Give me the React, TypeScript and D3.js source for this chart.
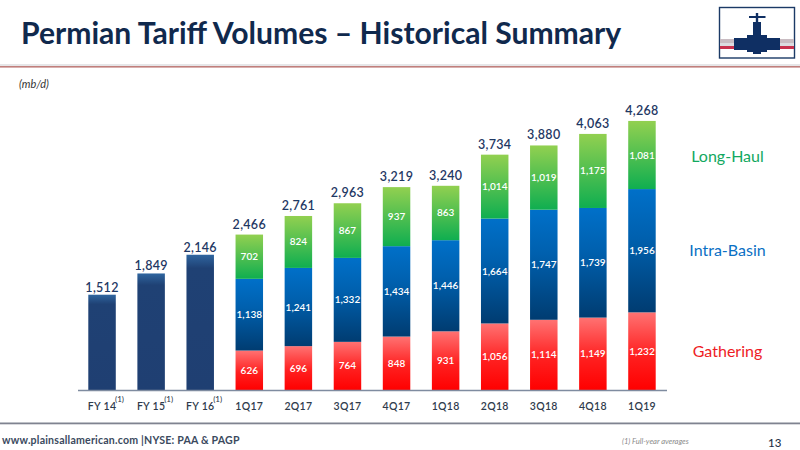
import React, { useRef, useEffect } from 'react';
import * as d3 from 'd3';

const categories = ['FY 14', 'FY 15', 'FY 16', '1Q17', '2Q17', '3Q17', '4Q17', '1Q18', '2Q18', '3Q18', '4Q18', '1Q19'];
const footnoted = ['FY 14', 'FY 15', 'FY 16'];
const annualTotals = [1512, 1849, 2146];
const quarters = categories.slice(3);
const gathering = [626, 696, 764, 848, 931, 1056, 1114, 1149, 1232];
const intraBasin = [1138, 1241, 1332, 1434, 1446, 1664, 1747, 1739, 1956];
const longHaul = [702, 824, 867, 937, 863, 1014, 1019, 1175, 1081];
const quarterTotals = [2466, 2761, 2963, 3219, 3240, 3734, 3880, 4063, 4268];

const FONT = 'Lato, "Open Sans", sans-serif';
const NAVY = '#10294d';

const App: React.FC = () => {
  const svgRef = useRef<SVGSVGElement>(null);

  useEffect(() => {
    const svg = d3.select(svgRef.current);
    svg.selectAll('*').remove();
    svg.style('font-family', FONT);

    const x = d3.scaleBand().domain(categories).range([77.5, 666.5]).paddingInner(0.44).paddingOuter(0.22);
    const y = d3.scaleLinear().domain([0, 4268]).range([390, 121]);

    // Gradients
    const defs = svg.append('defs');
    const gradient = (id: string, stops: [string, string][]) => {
      const g = defs.append('linearGradient').attr('id', id).attr('x1', 0).attr('x2', 0).attr('y1', 0).attr('y2', 1);
      stops.forEach(([o, c]) => g.append('stop').attr('offset', o).attr('stop-color', c));
    };
    gradient('red', [['0', '#ff7272'], ['0.55', '#ff2020'], ['1', '#ff0000']]);
    gradient('blue', [['0', '#0070c9'], ['0.4', '#0060ae'], ['1', '#003c71']]);
    gradient('green', [['0', '#92d050'], ['1', '#0fae50']]);
    gradient('navy', [['0', '#2f659f'], ['0.1', '#1f4174'], ['1', '#1f3f72']]);

    // Slide frame
    svg.append('text').attr('x', 21).attr('y', 44).attr('font-size', 30.1).attr('font-weight', 700)
      .attr('fill', NAVY).text('Permian Tariff Volumes – Historical Summary');
    svg.append('rect').attr('x', 0).attr('y', 64).attr('width', 800).attr('height', 2).attr('fill', '#e6e6e8');
    svg.append('rect').attr('x', 0).attr('y', 66).attr('width', 800).attr('height', 1.6).attr('fill', '#c07f7c');
    svg.append('text').attr('x', 19).attr('y', 88).attr('font-size', 11).attr('font-style', 'italic')
      .attr('fill', '#333').text('(mb/d)');
    svg.append('rect').attr('x', 0).attr('y', 422.5).attr('width', 800).attr('height', 1.8).attr('fill', '#7f8390');
    svg.append('text').attr('x', 2).attr('y', 443.5).attr('font-size', 10.6).attr('font-weight', 700)
      .attr('fill', '#3b4a5e').attr('letter-spacing', 0.2).text('www.plainsallamerican.com |NYSE: PAA & PAGP');
    svg.append('text').attr('x', 622).attr('y', 444).attr('font-size', 7.6).attr('font-style', 'italic')
      .attr('fill', '#8a8a8a').text('(1) Full-year averages');
    svg.append('text').attr('x', 768).attr('y', 447).attr('font-size', 11.5).attr('font-weight', 500)
      .attr('fill', '#1f2f45').text('13');

    // Logo
    const logo = svg.append('g').attr('fill', '#0f2f63');
    logo.append('rect').attr('x', 719.5).attr('y', 7.5).attr('width', 75).attr('height', 50.5)
      .attr('fill', '#fff').attr('stroke', '#1b3a66').attr('stroke-width', 1.4);
    logo.append('rect').attr('x', 720).attr('y', 39).attr('width', 74).attr('height', 4).attr('fill', '#c9bcc2');
    logo.append('rect').attr('x', 720).attr('y', 43).attr('width', 74).attr('height', 3).attr('fill', '#dcdce0');
    logo.append('rect').attr('x', 720).attr('y', 46).attr('width', 74).attr('height', 3).attr('fill', '#c8324e');
    logo.append('rect').attr('x', 734).attr('y', 38).attr('width', 46).attr('height', 12);
    logo.append('rect').attr('x', 747).attr('y', 35).attr('width', 20).attr('height', 17);
    logo.append('rect').attr('x', 753).attr('y', 22).attr('width', 8).attr('height', 32);
    logo.append('rect').attr('x', 755.8).attr('y', 13).attr('width', 2.4).attr('height', 10);
    logo.append('rect').attr('x', 749).attr('y', 16).attr('width', 16.5).attr('height', 2);

    // Annual bars
    const annual = categories.slice(0, 3);
    svg.append('g').selectAll('rect').data(annualTotals).join('rect')
      .attr('x', (_, i) => x(annual[i])!)
      .attr('width', x.bandwidth())
      .attr('y', d => y(d))
      .attr('height', d => y(0) - y(d))
      .attr('fill', 'url(#navy)');

    // Quarterly stacks
    const rows = quarters.map((q, i) => ({ q, gathering: gathering[i], intraBasin: intraBasin[i], longHaul: longHaul[i] }));
    const stack = d3.stack<any>().keys(['gathering', 'intraBasin', 'longHaul'])(rows);
    const fills = ['url(#red)', 'url(#blue)', 'url(#green)'];
    stack.forEach((layer, li) => {
      const g = svg.append('g');
      g.selectAll('rect').data(layer).join('rect')
        .attr('x', d => x(d.data.q)!)
        .attr('width', x.bandwidth())
        .attr('y', d => y(d[1]))
        .attr('height', d => y(d[0]) - y(d[1]))
        .attr('fill', fills[li]);
      g.selectAll('text').data(layer).join('text')
        .attr('x', d => x(d.data.q)! + x.bandwidth() / 2)
        .attr('y', d => (y(d[0]) + y(d[1])) / 2 + 3.5)
        .attr('text-anchor', 'middle')
        .attr('font-size', 10)
        .attr('font-weight', 600)
        .attr('fill', '#fff')
        .text(d => d3.format(',')(d[1] - d[0]));
    });

    // Totals above the bars
    const totalLabels = svg.append('g')
      .attr('text-anchor', 'middle')
      .attr('font-size', 12.5)
      .attr('font-weight', 600)
      .attr('letter-spacing', 0.3)
      .attr('fill', '#1f3864');
    totalLabels.selectAll('text.annual').data(annualTotals).join('text')
      .attr('class', 'annual')
      .attr('x', (_, i) => x(annual[i])! + x.bandwidth() / 2)
      .attr('y', d => y(d) - 3)
      .text(d => d3.format(',')(d));
    totalLabels.selectAll('text.quarter').data(quarterTotals).join('text')
      .attr('class', 'quarter')
      .attr('x', (_, i) => x(quarters[i])! + x.bandwidth() / 2)
      .attr('y', d => y(d) - 6)
      .text(d => d3.format(',')(d));

    // Category axis
    const axis = svg.append('g').attr('transform', 'translate(0,390)')
      .call(d3.axisBottom(x).tickSize(0).tickPadding(13));
    axis.select('.domain').attr('stroke', '#7f8ca0').attr('stroke-width', 1.5);
    axis.selectAll('text')
      .attr('font-family', FONT)
      .attr('font-size', 10.5)
      .attr('font-weight', 600)
      .attr('letter-spacing', 0.3)
      .attr('fill', '#2f3b4c');
    svg.append('g').selectAll('text').data(footnoted).join('text')
      .attr('x', d => x(d)! + x.bandwidth() / 2 + 13)
      .attr('y', 402)
      .attr('font-size', 8)
      .attr('font-weight', 500)
      .attr('fill', '#2f3b4c')
      .text('(1)');

    // Series names
    const legend: [string, string, number][] = [['Long-Haul', '#12a860', 162], ['Intra-Basin', '#0a70c4', 256], ['Gathering', '#ee1c25', 357]];
    svg.append('g').selectAll('text').data(legend).join('text')
      .attr('x', 727.5)
      .attr('y', d => d[2])
      .attr('text-anchor', 'middle')
      .attr('font-size', 16)
      .attr('font-weight', 400)
      .attr('fill', d => d[1])
      .text(d => d[0]);
  }, []);

  return <svg ref={svgRef} width={800} height={450} style={{ position: 'absolute', left: 0, top: 0, background: '#fff' }} />;
};

export default App;
